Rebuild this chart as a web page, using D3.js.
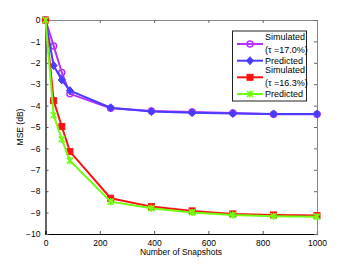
<!DOCTYPE html>
<html><head><meta charset="utf-8">
<script src="https://cdn.jsdelivr.net/npm/d3@7"></script>
<style>body{margin:0;background:#fff}svg{display:block;font-family:"Liberation Sans",Arial,sans-serif}</style>
</head><body><svg id="c" width="350" height="264"></svg>
<script>
const snapshots = [0, 30, 60, 90, 240, 390, 540, 690, 840, 1000];
const simA = [0, -1.21, -2.45, -3.45, -4.12, -4.25, -4.3, -4.35, -4.4, -4.4];
const predA = [0, -2.13, -2.8, -3.3, -4.1, -4.28, -4.33, -4.37, -4.39, -4.39];
const simB = [0, -3.77, -4.98, -6.15, -8.33, -8.72, -8.92, -9.06, -9.11, -9.14];
const predB = [0, -4.45, -5.58, -6.57, -8.49, -8.8, -8.99, -9.11, -9.17, -9.19];
const xTicks = [0, 200, 400, 600, 800, 1000];
const yTicks = [0, -1, -2, -3, -4, -5, -6, -7, -8, -9, -10];

const series = [
  {name:["Simulated","(τ =17.0%)"], vals: simA, color:"#b530ff", marker:"circle"},
  {name:["Predicted"], vals: predA, color:"#4a3cff", marker:"diamond"},
  {name:["Simulated","(τ =16.3%)"], vals: simB, color:"#ff1010", marker:"square"},
  {name:["Predicted"], vals: predB, color:"#6eff10", marker:"x"}
];

const svg = d3.select("#c");
const L=45.5, R=317, T=20, B=234;
const x = d3.scaleLinear().domain([0,1000]).range([L,R]);
const y = d3.scaleLinear().domain([-10,0]).range([B,T]);

// frame
svg.append("rect").attr("x",L).attr("y",T).attr("width",R-L).attr("height",B-T)
  .attr("fill","#fff").attr("stroke","none");
const fs = "8.5px";
// axes
const gx = svg.append("g").attr("transform",`translate(0,${B})`)
  .call(d3.axisBottom(x).tickValues(xTicks).tickSize(-3).tickPadding(6).tickFormat(d3.format("d")));
const gxt = svg.append("g").attr("transform",`translate(0,${T})`)
  .call(d3.axisTop(x).tickValues(xTicks).tickSize(-3).tickFormat(""));
const gy = svg.append("g").attr("transform",`translate(${L},0)`)
  .call(d3.axisLeft(y).tickValues(yTicks).tickSize(-3).tickPadding(5).tickFormat(d=>d<0?"\u2212"+Math.abs(d):d));
const gyr = svg.append("g").attr("transform",`translate(${R},0)`)
  .call(d3.axisRight(y).tickValues(yTicks).tickSize(-3).tickFormat(""));
[gx,gy].forEach(g=>{g.select(".domain").attr("stroke","#000").attr("stroke-width",1.2);
  g.selectAll(".tick line").attr("stroke","#555");
  g.selectAll("text").attr("font-size",fs).attr("fill","#000").attr("font-family","Liberation Sans,Arial,sans-serif");});
[gxt,gyr].forEach(g=>{g.select(".domain").attr("stroke","#888").attr("stroke-width",1);
  g.selectAll(".tick line").attr("stroke","#666");});

function drawMarker(g, m, cx, cy, color){
  if(m==="circle") g.append("circle").attr("cx",cx).attr("cy",cy).attr("r",3).attr("fill","none").attr("stroke",color).attr("stroke-width",1.5);
  else if(m==="diamond") g.append("path").attr("d",`M${cx},${cy-4}L${cx+3.5},${cy}L${cx},${cy+4}L${cx-3.5},${cy}Z`).attr("fill",color).attr("stroke",color);
  else if(m==="square") g.append("rect").attr("x",cx-3).attr("y",cy-3).attr("width",6).attr("height",6).attr("fill",color).attr("stroke",color);
  else if(m==="x") g.append("path").attr("d",`M${cx-3},${cy-3}L${cx+3},${cy+3}M${cx-3},${cy+3}L${cx+3},${cy-3}M${cx},${cy-3.5}L${cx},${cy+3.5}`).attr("stroke",color).attr("stroke-width",1.6);
}

const line = d3.line().x(d=>x(d[0])).y(d=>y(d[1]));
series.forEach(s=>{
  const pts = snapshots.map((v,i)=>[v,s.vals[i]]);
  const g = svg.append("g");
  g.append("path").attr("d",line(pts)).attr("fill","none").attr("stroke",s.color).attr("stroke-width",2);
  pts.forEach(p=>drawMarker(g,s.marker,x(p[0]),y(p[1]),s.color));
});

// legend
const lg = svg.append("g");
lg.append("rect").attr("x",232.5).attr("y",31).attr("width",74).attr("height",70).attr("fill","#fff").attr("stroke","#222").attr("stroke-width",1);
const rows = [44, 60.7, 77.3, 94];
series.forEach((s,i)=>{
  const yy = rows[i];
  lg.append("line").attr("x1",237).attr("x2",263).attr("y1",yy).attr("y2",yy).attr("stroke",s.color).attr("stroke-width",2);
  drawMarker(lg,s.marker,250,yy,s.color);
  if(s.name.length===2){
    lg.append("text").attr("x",265).attr("y",yy-4).text(s.name[0]).attr("font-size","9px");
    lg.append("text").attr("x",265).attr("y",yy+8.5).text(s.name[1]).attr("font-size","9px");
  } else {
    lg.append("text").attr("x",265).attr("y",yy+3.3).text(s.name[0]).attr("font-size","9px");
  }
});

svg.append("text").attr("x",181).attr("y",255).attr("text-anchor","middle").attr("font-size","8.5px").text("Number of Snapshots");
svg.append("text").attr("transform","translate(23,127) rotate(-90)").attr("text-anchor","middle").attr("font-size","8.5px").text("MSE (dB)");
</script></body></html>
